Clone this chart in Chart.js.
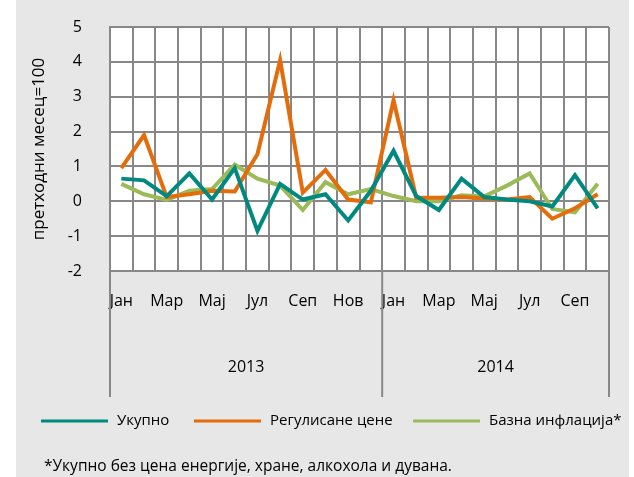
<!DOCTYPE html>
<html>
<head>
<meta charset="utf-8">
<script src="https://cdn.jsdelivr.net/npm/chart.js@4.4.1/dist/chart.umd.min.js"></script>
<style>
  html, body { margin: 0; padding: 0; background: #ffffff; }
  canvas { display: block; }
</style>
</head>
<body>
<canvas id="inflationChart" width="634" height="477"></canvas>
<script>
/* =============================================================================
   Monthly inflation, previous month = 100 (2013 - 2014)
   ============================================================================= */

const months = ['Јан', 'Феб', 'Мар', 'Апр', 'Мај', 'Јун', 'Јул', 'Авг', 'Сеп', 'Окт', 'Нов', 'Дец'];
const years = ['2013', '2014'];
const monthsPerYear = [12, 10];

const ukupno = [0.65, 0.6, 0.15, 0.8, 0.05, 0.95, -0.85, 0.5, 0.05, 0.2, -0.55, 0.3,
                1.45, 0.15, -0.25, 0.65, 0.12, 0.05, 0.0, -0.15, 0.75, -0.2];
const regulisane = [0.95, 1.9, 0.12, 0.2, 0.3, 0.28, 1.35, 4.05, 0.25, 0.9, 0.05, -0.03,
                    2.9, 0.1, 0.1, 0.12, 0.08, 0.05, 0.12, -0.5, -0.2, 0.2];
const bazna = [0.5, 0.2, 0.04, 0.3, 0.35, 1.05, 0.65, 0.45, -0.25, 0.55, 0.2, 0.35,
               0.15, 0.0, 0.0, 0.17, 0.14, 0.45, 0.8, -0.22, -0.32, 0.5];

const seriesNames = ['Укупно', 'Регулисане цене', 'Базна инфлација*'];
const yTicks = [-2, -1, 0, 1, 2, 3, 4, 5];
const yTitle = 'претходни месец=100';
const footnote = '*Укупно без цена енергије, хране, алкохола и дувана.';

const GRID = '#888888';
const PANEL = '#e7e7e7';
const FONT = '"Open Sans", sans-serif';

// one label per month, years taken from the lists above
const labels = [];
years.forEach((y, yi) => {
  for (let m = 0; m < monthsPerYear[yi]; m++) labels.push(months[m] + ' ' + y);
});

/**
 * Gray panel + white plot area
 */
const backgroundPlugin = {
  id: 'panel',
  beforeDraw(chart) {
    const { ctx, chartArea } = chart;
    ctx.save();
    ctx.fillStyle = '#ffffff';
    ctx.fillRect(0, 0, chart.width, chart.height);
    ctx.fillStyle = PANEL;
    ctx.fillRect(16, 0, 613, chart.height);
    ctx.fillStyle = '#ffffff';
    ctx.fillRect(chartArea.left, chartArea.top, chartArea.right - chartArea.left, chartArea.bottom - chartArea.top);
    ctx.restore();
  }
};

/**
 * Year groups under the month labels, legend and footnote
 */
const extrasPlugin = {
  id: 'extras',
  afterDraw(chart) {
    const { ctx, chartArea } = chart;
    const xs = chart.scales.x;
    const step = xs.getPixelForValue(1) - xs.getPixelForValue(0);

    ctx.save();
    ctx.strokeStyle = GRID;
    ctx.lineWidth = 2;

    // separators between years
    let idx = 0;
    const bounds = [xs.getPixelForValue(0) - step / 2];
    monthsPerYear.forEach(n => {
      idx += n;
      bounds.push(xs.getPixelForValue(idx - 1) + step / 2);
    });
    bounds.forEach(x => {
      ctx.beginPath();
      ctx.moveTo(x, chartArea.bottom);
      ctx.lineTo(x, 397);
      ctx.stroke();
    });

    ctx.fillStyle = '#000';
    ctx.font = '16px ' + FONT;
    ctx.textAlign = 'center';
    ctx.textBaseline = 'middle';
    years.forEach((y, i) => {
      ctx.fillText(y, (bounds[i] + bounds[i + 1]) / 2, 367);
    });

    // legend
    const legendX = [41, 194, 413];
    ctx.font = '15px ' + FONT;
    ctx.textAlign = 'left';
    chart.data.datasets.forEach((ds, i) => {
      ctx.strokeStyle = ds.borderColor;
      ctx.lineWidth = 3;
      ctx.beginPath();
      ctx.moveTo(legendX[i], 421);
      ctx.lineTo(legendX[i] + 67, 421);
      ctx.stroke();
      ctx.fillText(ds.label, legendX[i] + 76, 421);
    });

    // footnote
    ctx.font = '15.5px ' + FONT;
    ctx.fillText(footnote, 44, 467);
    ctx.restore();
  }
};

function makeDataset(label, data, color) {
  return {
    label: label,
    data: data,
    borderColor: color,
    backgroundColor: color,
    borderWidth: 4,
    pointRadius: 0,
    tension: 0,
    fill: false
  };
}

const chartData = {
  labels: labels,
  datasets: [
    makeDataset(seriesNames[0], ukupno, '#00897e'),
    makeDataset(seriesNames[1], regulisane, '#e46c0a'),
    makeDataset(seriesNames[2], bazna, '#9bbb59')
  ]
};

const options = {
  responsive: false,
  animation: false,
  layout: {
    padding: { left: 25, right: 25, top: 27, bottom: 146 }
  },
  plugins: {
    legend: { display: false },
    tooltip: { enabled: false }
  },
  scales: {
    x: {
      offset: true,
      grid: { offset: true, color: GRID, lineWidth: 2, drawTicks: false },
      border: { color: GRID, width: 2 },
      ticks: {
        autoSkip: false,
        maxRotation: 0,
        padding: 21,
        color: '#000',
        font: { family: FONT, size: 16 },
        callback: (value, index) => (index % 2 === 0 ? months[index % 12] : '')
      },
      afterFit: (scale) => { scale.height = 60; }
    },
    y: {
      min: yTicks[0],
      max: yTicks[yTicks.length - 1],
      grid: { color: GRID, lineWidth: 2, drawTicks: false },
      border: { color: GRID, width: 2 },
      ticks: {
        stepSize: 1,
        padding: 28,
        color: '#000',
        font: { family: FONT, size: 16 }
      },
      title: {
        display: true,
        text: yTitle,
        color: '#000',
        padding: 4,
        font: { family: FONT, size: 17 }
      },
      afterFit: (scale) => {
        scale.width = 85;
        // tick padding would otherwise push the plot top down
        scale.paddingTop = 10;
        scale.paddingBottom = 10;
      }
    }
  }
};

const ctx = document.getElementById('inflationChart').getContext('2d');
window.inflationChart = new Chart(ctx, {
  type: 'line',
  data: chartData,
  options: options,
  plugins: [backgroundPlugin, extrasPlugin]
});
</script>
</body>
</html>
